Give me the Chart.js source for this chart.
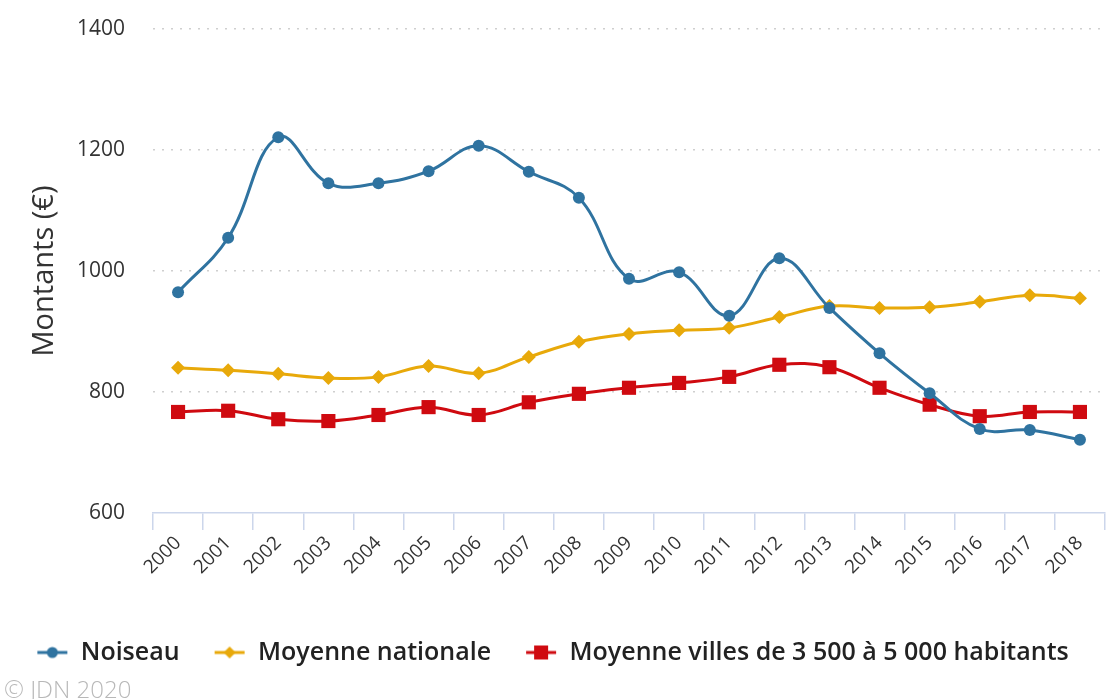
<!DOCTYPE html>
<html>
<head>
<meta charset="utf-8">
<script src="https://cdn.jsdelivr.net/npm/chart.js@4/dist/chart.umd.min.js"></script>
<style>
  html, body { margin: 0; padding: 0; background: #fff; }
  #wrap { position: relative; width: 1107px; height: 699px; }
  #copy { position: absolute; left: 4px; top: 672px; font-family: "Open Sans", sans-serif; font-weight: 300; font-size: 24px; color: #b8b8b8; white-space: nowrap; }
</style>
</head>
<body>
<div id="wrap">
  <canvas id="c" width="1107" height="699"></canvas>
  <div id="copy">© JDN 2020</div>
</div>
<script>
const years = ["2000","2001","2002","2003","2004","2005","2006","2007","2008","2009","2010","2011","2012","2013","2014","2015","2016","2017","2018"];
const noiseau = [965,1055,1221,1145,1145,1165,1207,1164,1121,987,998,926,1021,939,864,798,739,737,721];
const moyenneNationale = [840,836,830,823,825,843,831,858,883,896,902,906,924,942,939,940,949,960,955];
const moyenneVilles = [767,769,755,752,762,775,762,783,797,807,815,825,845,841,807,779,760,767,767];
const seriesNames = ["Noiseau", "Moyenne nationale", "Moyenne villes de 3 500 à 5 000 habitants"];
const yTicks = [600, 800, 1000, 1200, 1400];
const yTitle = "Montants (€)";

const cBlue = "#2f73a0", cYellow = "#e8a90a", cRed = "#cf0a10";

function legendIcon(color, style) {
  const cv = document.createElement('canvas');
  cv.width = 32; cv.height = 16;
  const g = cv.getContext('2d');
  g.strokeStyle = color; g.fillStyle = color; g.lineWidth = 3;
  g.beginPath(); g.moveTo(1, 8); g.lineTo(31, 8); g.stroke();
  g.beginPath();
  if (style === 'circle') { g.arc(16, 8, 5.5, 0, Math.PI * 2); }
  else if (style === 'diamond') { g.moveTo(16, 2); g.lineTo(22, 8); g.lineTo(16, 14); g.lineTo(10, 8); g.closePath(); }
  else { g.rect(9, 1, 14, 14); }
  g.fill();
  return cv;
}
const icons = [legendIcon(cBlue, 'circle'), legendIcon(cYellow, 'diamond'), legendIcon(cRed, 'square')];

const FONT = '"Open Sans", sans-serif';

new Chart(document.getElementById('c'), {
  type: 'line',
  data: {
    labels: years,
    datasets: [
      { label: seriesNames[0], data: noiseau, borderColor: cBlue, backgroundColor: cBlue, borderWidth: 3, tension: 0.4, pointStyle: 'circle', pointRadius: 6, pointBorderWidth: 0 },
      { label: seriesNames[1], data: moyenneNationale, borderColor: cYellow, backgroundColor: cYellow, borderWidth: 3, tension: 0.4, pointStyle: 'rectRot', pointRadius: 7, pointBorderWidth: 0 },
      { label: seriesNames[2], data: moyenneVilles, borderColor: cRed, backgroundColor: cRed, borderWidth: 3, tension: 0.4, pointStyle: 'rect', pointRadius: 10, pointBorderWidth: 0 }
    ]
  },
  options: {
    responsive: false,
    animation: false,
    layout: { autoPadding: false, padding: { top: 29, right: 2, bottom: 24, left: 0 } },
    plugins: {
      tooltip: { enabled: false },
      legend: {
        position: 'bottom',
        labels: {
          usePointStyle: true,
          pointStyleWidth: 32,
          padding: 34,
          color: '#222',
          font: { family: FONT, size: 25, weight: '600' },
          generateLabels: (chart) => chart.data.datasets.map((ds, i) => ({
            text: ds.label, pointStyle: icons[i], fillStyle: ds.borderColor, strokeStyle: ds.borderColor,
            lineWidth: 0, hidden: false, datasetIndex: i, fontColor: '#222'
          }))
        }
      }
    },
    scales: {
      x: {
        offset: true,
        grid: { offset: true, drawOnChartArea: false, drawTicks: true, tickLength: 17, color: '#ccd6eb', lineWidth: 1.5 },
        border: { display: true, color: '#ccd6eb', width: 1.5 },
        ticks: { minRotation: 45, maxRotation: 45, padding: 2, color: '#333', font: { family: FONT, size: 19 } },
        afterFit: (s) => { s.height = 93; s.paddingLeft = 0; s.paddingRight = 0; }
      },
      y: {
        min: 600, max: 1400,
        afterBuildTicks: (s) => { s.ticks = yTicks.map(v => ({ value: v })); },
        border: { display: false, dash: [2, 7] },
        grid: {
          drawTicks: false,
          color: (ctx) => ctx.tick && ctx.tick.value === 600 ? 'rgba(0,0,0,0)' : '#cfcfcf',
          lineWidth: 1.5
        },
        ticks: { padding: 28, color: '#333', font: { family: FONT, size: 21 }, callback: (v) => String(v) },
        title: { display: true, text: yTitle, color: '#333', font: { family: FONT, size: 29 }, padding: { top: 27, bottom: 0 } },
        afterFit: (s) => { s.width = 153; s.paddingTop = 0; s.paddingBottom = 0; }
      }
    }
  }
});
</script>
</body>
</html>
